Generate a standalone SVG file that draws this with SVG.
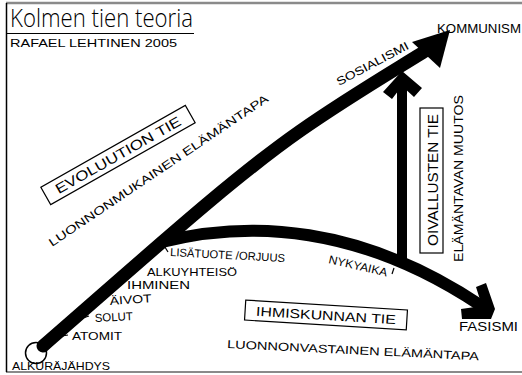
<svg xmlns="http://www.w3.org/2000/svg" width="522" height="375" viewBox="0 0 522 375">
<style>
.t{font-family:"Liberation Sans","DejaVu Sans",sans-serif;fill:#000;}
.s{font-size:11.5px;}
.m{font-size:13px;}
.box{fill:none;stroke:#000;stroke-width:1.2;}
.tick{stroke:#000;stroke-width:1.2;fill:none;}
.conn{fill:none;stroke:#000;stroke-linecap:round;stroke-linejoin:round;}
</style>
<rect width="522" height="375" fill="#fff"/>
<g id="frame">
<line x1="6" y1="3" x2="522" y2="3" stroke="#8a8a8a" stroke-width="2.5"/>
<line x1="6" y1="372" x2="522" y2="372" stroke="#8a8a8a" stroke-width="2"/>
<line x1="6.5" y1="3" x2="6.5" y2="372" stroke="#000" stroke-width="1.5"/>
</g>
<g id="title">
<text class="t" x="10" y="27" style="font-family:'Open Sans','Liberation Sans',sans-serif;font-weight:300;font-size:25px" textLength="183" lengthAdjust="spacingAndGlyphs">Kolmen tien teoria</text>
<line x1="7" y1="33.5" x2="194" y2="33.5" stroke="#000" stroke-width="1.2"/>
<text class="t" x="10" y="47" style="font-size:10.5px" textLength="167" lengthAdjust="spacingAndGlyphs">RAFAEL LEHTINEN 2005</text>
</g>
<g id="alkurajahdys">
<circle cx="36" cy="353" r="10.5" fill="#fff" stroke="#000" stroke-width="1.5"/>
</g>
<g id="connectors">
<path class="conn" d="M 43 346 C 150 253, 230 180, 300 131 C 350 96, 400 67, 430 48" stroke-width="13"/>
<polygon points="412,42 450,30 440,68" fill="#000"/>
<path class="conn" d="M 162 242 C 250 220, 360 225, 480 305" stroke-width="12" stroke-linecap="butt"/>
<polygon points="476,287 486,283 495,309 491,319 462,319 461,309 482,306" fill="#000"/>
<line x1="402" y1="84" x2="402" y2="262" stroke="#000" stroke-width="10"/>
<polygon points="383,92 402,71 422,88 414,97 402,86 392,99" fill="#000"/>
</g>
<g id="kommunismi">
<text class="t m" x="437" y="33" textLength="84" lengthAdjust="spacingAndGlyphs">KOMMUNISM</text>
</g>
<g id="sosialismi">
<text class="t s" transform="translate(339,86) rotate(-28)" textLength="80" lengthAdjust="spacingAndGlyphs">SOSIALISMI</text>
</g>
<g id="evoluution-tie">
<g transform="translate(118,155) rotate(-29.5)">
<rect class="box" x="-83" y="-10" width="166" height="20"/>
<text class="t" x="0" y="5" text-anchor="middle" style="font-size:14px" textLength="142" lengthAdjust="spacingAndGlyphs">EVOLUUTION TIE</text>
</g>
<text class="t s" transform="translate(52,247) rotate(-34)" textLength="262" lengthAdjust="spacingAndGlyphs">LUONNONMUKAINEN ELÄMÄNTAPA</text>
</g>
<g id="oivallusten-tie">
<rect class="box" x="420" y="108" width="23" height="145"/>
<text class="t" transform="translate(438,246) rotate(-90)" style="font-size:14px" textLength="132" lengthAdjust="spacingAndGlyphs">OIVALLUSTEN TIE</text>
<text class="t m" transform="translate(463,262) rotate(-90)" textLength="167" lengthAdjust="spacingAndGlyphs">ELÄMÄNTAVAN MUUTOS</text>
</g>
<g id="ihmiskunnan-tie">
<g transform="translate(326,315) rotate(3.5)">
<rect class="box" x="-81" y="-10" width="162" height="20"/>
<text class="t" x="0" y="5" text-anchor="middle" style="font-size:13px" textLength="140" lengthAdjust="spacingAndGlyphs">IHMISKUNNAN TIE</text>
</g>
<text class="t s" transform="translate(227,348) rotate(2.8)" textLength="252" lengthAdjust="spacingAndGlyphs">LUONNONVASTAINEN ELÄMÄNTAPA</text>
</g>
<g id="fasismi">
<text class="t m" x="459" y="331" textLength="59" lengthAdjust="spacingAndGlyphs">FASISMI</text>
</g>
<g id="nykyaika">
<text class="t s" transform="translate(328,263) rotate(13)" textLength="60" lengthAdjust="spacingAndGlyphs">NYKYAIKA</text>
<line class="tick" x1="392" y1="274" x2="394" y2="268"/>
</g>
<g id="lisatuote">
<line class="tick" x1="163" y1="244" x2="168" y2="252"/>
<text class="t s" transform="translate(170,256) rotate(3)" textLength="115" lengthAdjust="spacingAndGlyphs">LISÄTUOTE /ORJUUS</text>
</g>
<g id="alkuyhteiso">
<line class="tick" x1="132" y1="271" x2="139" y2="269"/>
<text class="t s" x="147" y="276" textLength="90" lengthAdjust="spacingAndGlyphs">ALKUYHTEISÖ</text>
</g>
<g id="ihminen">
<line class="tick" x1="116" y1="284" x2="122" y2="282"/>
<text class="t s" x="127" y="289" textLength="63" lengthAdjust="spacingAndGlyphs">IHMINEN</text>
</g>
<g id="aivot">
<line class="tick" x1="99" y1="301" x2="105" y2="299"/>
<text class="t s" transform="translate(110,305) rotate(-4)" textLength="42" lengthAdjust="spacingAndGlyphs">ÄIVOT</text>
</g>
<g id="solut">
<line class="tick" x1="83" y1="318" x2="89" y2="316"/>
<text class="t s" transform="translate(95,322) rotate(-3)" textLength="38" lengthAdjust="spacingAndGlyphs">SOLUT</text>
</g>
<g id="atomit">
<line class="tick" x1="62" y1="336" x2="68" y2="335"/>
<text class="t s" x="72" y="340" textLength="50" lengthAdjust="spacingAndGlyphs">ATOMIT</text>
</g>
<g id="alkurajahdys-label">
<text class="t s" x="12" y="370" textLength="98" lengthAdjust="spacingAndGlyphs">ALKURÄJÄHDYS</text>
</g>
</svg>
